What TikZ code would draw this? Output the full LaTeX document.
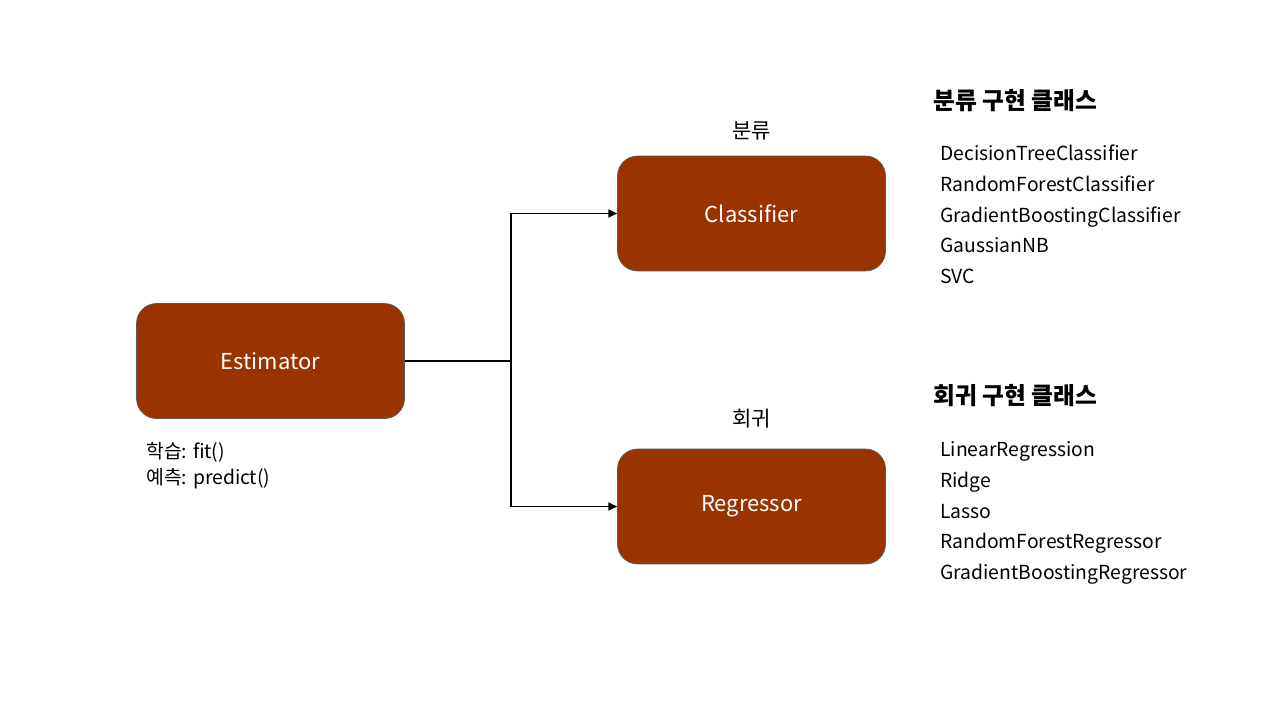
\documentclass[tikz,border=0pt]{standalone}
\usepackage{fontspec}
\setmainfont{Noto Sans CJK KR}
\usetikzlibrary{arrows.meta}

\definecolor{boxfill}{HTML}{993300}
\definecolor{boxline}{HTML}{595959}

\tikzset{
    model/.style={draw=boxline, fill=boxfill, rounded corners=0.4cm, text=white,
        minimum width=5.36cm, minimum height=2.3cm, font=\fontsize{12.5}{14}\selectfont},
    caption/.style={font=\fontsize{12}{14}\selectfont},
    item/.style={anchor=west, inner sep=0pt, text height=0.75em, text depth=0.22em,
        font=\fontsize{11}{13}\selectfont},
    heading/.style={anchor=west, inner sep=0pt, text height=0.75em, text depth=0.22em,
        font=\bfseries\fontsize{13.5}{15}\selectfont}
}

\begin{document}
\begin{tikzpicture}[x=0.02cm, y=-0.02cm]
    \useasboundingbox (0,0) rectangle (1280,720);

    % boxes
    \node[model] (est) at (270.5,361) {Estimator};
    \node[model] (cls) at (751.5,213.5) {Classifier};
    \node[model] (reg) at (751.5,506.5) {Regressor};

    \node[caption] (clscap) at (751.5,131) {분류};
    \node[caption] (regcap) at (751.5,419) {회귀};

    \node[item] (fitnote) at (146,454) {학습: fit()};
    \node[item] (prednote) at (146,480) {예측: predict()};

    % connectors
    \coordinate (fork) at (511,361);
    \draw[line width=1.6pt] (est.east) -- (fork);
    \draw[line width=0.9pt, -{Triangle[length=5pt,width=4.5pt]}] (fork) |- (cls.west);
    \draw[line width=0.9pt, -{Triangle[length=5pt,width=4.5pt]}] (fork) |- (reg.west);

    % class lists
    \node[heading] (clshead) at (933,105) {분류 구현 클래스};
    \foreach \name [count=\i] in {DecisionTreeClassifier, RandomForestClassifier,
        GradientBoostingClassifier, GaussianNB, SVC}
        \node[item] (clsitem\i) at (940,{156+30.7*(\i-1)}) {\name};

    \node[heading] (reghead) at (933,400) {회귀 구현 클래스};
    \foreach \name [count=\i] in {LinearRegression, Ridge, Lasso,
        RandomForestRegressor, GradientBoostingRegressor}
        \node[item] (regitem\i) at (940,{452+30.7*(\i-1)}) {\name};
\end{tikzpicture}
\end{document}
